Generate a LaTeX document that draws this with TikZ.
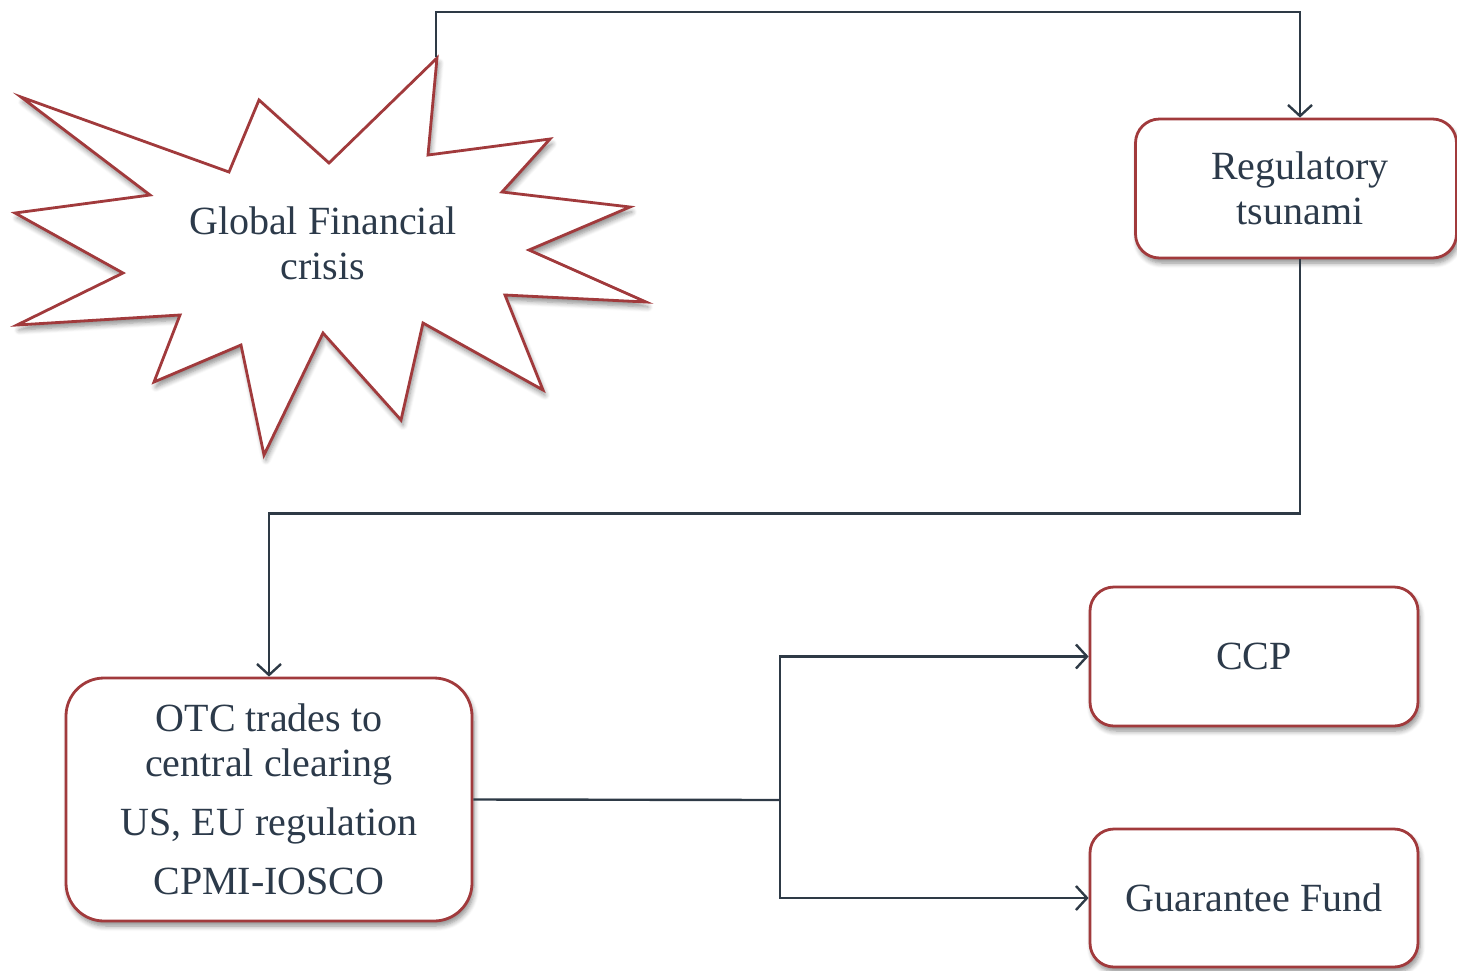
\documentclass[tikz,border=0pt]{standalone}
\usepackage{fontspec}
\setmainfont{Liberation Serif}
\usetikzlibrary{arrows.meta,shadows,shadows.blur}
\definecolor{txt}{HTML}{2C3A4A}
\definecolor{bord}{HTML}{A13A3C}
\definecolor{conn}{HTML}{2E3A46}
\tikzset{
  lbl/.style={align=center, text=txt, font=\fontsize{20}{22.5}\selectfont, inner sep=0pt},
  box/.style={lbl, draw=bord, line width=1.4pt, fill=white, rounded corners=12pt,
    blur shadow={shadow xshift=1pt, shadow yshift=-2.5pt, shadow blur steps=6, shadow opacity=45, shadow blur radius=2.5pt}},
  conn/.style={draw=conn, line width=1.2pt, -{Straight Barb[length=5.5pt,width=12pt,line width=1.2pt]}},
  plain/.style={draw=conn, line width=1.2pt}
}
\begin{document}
\begin{tikzpicture}[x=0.5pt,y=-0.5pt]
\useasboundingbox (0,0) rectangle (1457,970);
% star
\draw[draw=bord, line width=1.4pt, fill=white, line join=miter,
  blur shadow={shadow xshift=1pt, shadow yshift=-2.5pt, shadow blur steps=6, shadow opacity=45, shadow blur radius=2.5pt}]
  (437,58) -- (428,155) -- (550,139) -- (502,192) -- (630,207) -- (529,250)
  -- (646,302) -- (505,295) -- (543,390) -- (423,323) -- (401,420) -- (323,333)
  -- (264,455) -- (241,345) -- (154,382) -- (180,315) -- (17,325) -- (123,273)
  -- (15,213) -- (150,195) -- (21,97) -- (229,172) -- (259,100) -- (329,163) -- cycle;
\coordinate (startop) at (436,57);
\node[lbl] (gfc) at (323,243.5) {Global Financial\\crisis};
% boxes
\node[box, minimum width=160.5pt, minimum height=69.5pt] (reg) at (1296,188.5) {\hspace*{4pt}Regulatory\\\hspace*{4pt}tsunami};
\node[box, rounded corners=19pt, minimum width=203pt, minimum height=121.5pt] (otc) at (269,799.5)
  {OTC trades to\\central clearing\\[7pt]US, EU regulation\\[7pt]CPMI-IOSCO};
\node[box, minimum width=164pt, minimum height=69.5pt] (ccp) at (1254,656.5) {CCP};
\node[box, minimum width=164pt, minimum height=69pt] (gf) at (1254,898) {Guarantee Fund};
% connectors
\draw[conn] (startop) -- ++(0,-45) -| ([xshift=2pt]reg.north);
\draw[conn] ([xshift=2pt]reg.south) -- ++(0,254) -| (otc.north);
\coordinate (split) at (780,800);
\draw[plain] (otc.east) -- (split);
\draw[conn] (split) |- (ccp.west);
\draw[conn] (split) |- (gf.west);
\end{tikzpicture}
\end{document}
